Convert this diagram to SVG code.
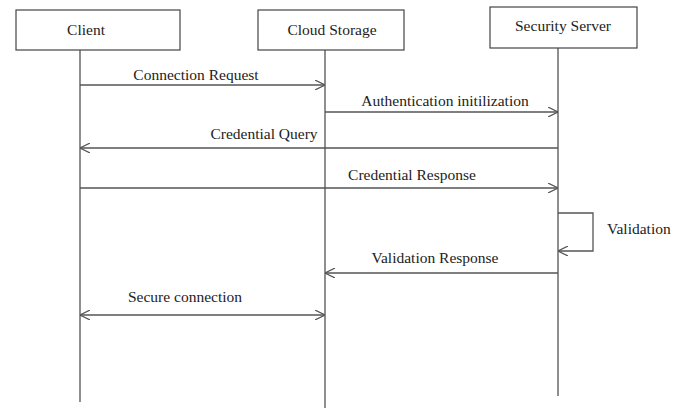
<svg xmlns="http://www.w3.org/2000/svg" width="685" height="410" viewBox="0 0 685 410">
<style>
.box{fill:#fff;stroke:#444;stroke-width:1.2}
.life{stroke:#444;stroke-width:1.2;fill:none}
.msg{stroke:#555;stroke-width:1.3;fill:none}
text{font-family:"Liberation Serif","Times New Roman",serif;font-size:15.5px;fill:#222}
.c{text-anchor:middle}
</style>
<defs>
<marker id="ah" viewBox="0 0 10 10" refX="10" refY="5" markerWidth="10" markerHeight="10" markerUnits="userSpaceOnUse" orient="auto-start-reverse">
<path d="M0,0 L10,5 L0,10" fill="none" stroke="#555" stroke-width="1.2"/>
</marker>
</defs>
<rect width="685" height="410" fill="#fff"/>
<g id="client">
<rect class="box" x="16" y="10" width="164" height="40"/>
<text class="c" x="86" y="35">Client</text>
<line class="life" x1="80" y1="50" x2="80" y2="402"/>
</g>
<g id="cloud">
<rect class="box" x="258" y="10" width="146" height="40"/>
<text class="c" x="332" y="35">Cloud Storage</text>
<line class="life" x1="325" y1="50" x2="325" y2="408"/>
</g>
<g id="security">
<rect class="box" x="490" y="7" width="147" height="41"/>
<text class="c" x="563" y="31">Security Server</text>
<line class="life" x1="558" y1="48" x2="558" y2="396"/>
</g>
<g id="connectors">
<line class="msg" x1="80" y1="85" x2="325" y2="85" marker-end="url(#ah)"/>
<line class="msg" x1="325" y1="112" x2="558" y2="112" marker-end="url(#ah)"/>
<line class="msg" x1="558" y1="148" x2="80" y2="148" marker-end="url(#ah)"/>
<line class="msg" x1="80" y1="188" x2="558" y2="188" marker-end="url(#ah)"/>
<polyline class="msg" points="558,213 593,213 593,251 558,251" marker-end="url(#ah)"/>
<line class="msg" x1="558" y1="273" x2="325" y2="273" marker-end="url(#ah)"/>
<line class="msg" x1="80" y1="315" x2="325" y2="315" marker-start="url(#ah)" marker-end="url(#ah)"/>
</g>
<g id="labels">
<text class="c" x="196" y="80">Connection Request</text>
<text class="c" x="445" y="106">Authentication initilization</text>
<text class="c" x="264" y="139">Credential Query</text>
<text class="c" x="412" y="180">Credential Response</text>
<text x="607" y="234">Validation</text>
<text class="c" x="435" y="263">Validation Response</text>
<text class="c" x="185" y="302">Secure connection</text>
</g>
</svg>
